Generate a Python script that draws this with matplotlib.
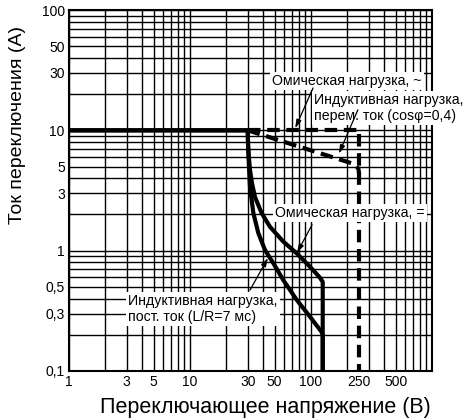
import numpy as np
import matplotlib
matplotlib.use("Agg")
import matplotlib.pyplot as plt
from matplotlib.ticker import FixedLocator, NullFormatter

plt.rcParams['font.family'] = ['Liberation Sans', 'DejaVu Sans']

# Data (voltage in V, current in A)
ohm_dc_v = [1, 30, 30.2, 30.6, 31.3, 32.6, 34.4, 39.1, 45.8, 59, 76.2, 98, 118, 125, 125]
ohm_dc_i = [10, 10, 7.5, 6.2, 4.7, 3.6, 2.8, 2.05, 1.58, 1.19, 0.95, 0.736, 0.6, 0.55, 0.1]

ind_dc_v = [1, 30, 30.2, 30.4, 31.3, 33.4, 36.7, 41.7, 48.9, 59, 76.2, 98, 122, 125, 125]
ind_dc_i = [10, 10, 7.5, 6.2, 3.4, 2.05, 1.4, 1.01, 0.785, 0.57, 0.39, 0.283, 0.212, 0.2, 0.1]

ohm_ac_v = [30, 250, 250]
ohm_ac_i = [10, 10, 0.1]

ind_ac_v = [30, 220, 238, 247, 250]
ind_ac_i = [10, 5.3, 5.05, 4.75, 4.3]

x_ticks = [1, 3, 5, 10, 30, 50, 100, 250, 500]
x_labels = ['1', '3', '5', '10', '30', '50', '100', '250', '500']
y_ticks = [0.1, 0.3, 0.5, 1, 3, 5, 10, 30, 50, 100]
y_labels = ['0,1', '0,3', '0,5', '1', '3', '5', '10', '30', '50', '100']

fig = plt.figure(figsize=(4.7, 4.18), dpi=100)
ax = fig.add_axes([69/470, 1 - 371/418, 363/470, 361/418])
ax.set_xscale('log')
ax.set_yscale('log')
ax.set_xlim(1, 1000)
ax.set_ylim(0.1, 100)

# grid at every 1..9 step of each decade
grid_x = [m * 10**d for d in range(0, 3) for m in range(1, 10)] + [1000]
grid_y = [m * 10.0**d for d in range(-1, 2) for m in range(1, 10)] + [100]
for gx in grid_x:
    ax.axvline(gx, color='black', lw=1.0, zorder=1)
for gy in grid_y:
    ax.axhline(gy, color='black', lw=1.0, zorder=1)

ax.set_xticks(x_ticks)
ax.set_xticklabels(x_labels)
ax.xaxis.set_minor_locator(FixedLocator([]))
ax.xaxis.set_minor_formatter(NullFormatter())
ax.set_yticks(y_ticks)
ax.set_yticklabels(y_labels)
ax.yaxis.set_minor_locator(FixedLocator([]))
ax.yaxis.set_minor_formatter(NullFormatter())
ax.tick_params(length=0, labelsize=10, pad=3, colors='black')
for s in ax.spines.values():
    s.set_linewidth(1.5)

ax.plot(ohm_dc_v, ohm_dc_i, color='black', lw=3, solid_joinstyle='round', zorder=3)
ax.plot(ind_dc_v, ind_dc_i, color='black', lw=3, solid_joinstyle='round', zorder=3)
ax.plot(ohm_ac_v, ohm_ac_i, color='black', lw=3, ls=(0, (3, 1.6)), zorder=3)
ax.plot(ind_ac_v, ind_ac_i, color='black', lw=3, ls=(0, (3, 1.6)), zorder=3)

box = dict(fc='white', ec='none', pad=1.5)
arrow = dict(arrowstyle='-|>,head_length=0.5,head_width=0.15', color='black',
             lw=0.9, shrinkA=0, shrinkB=0)
fs = 10.2

ax.text(47.6, 25.7, 'Омическая нагрузка, ~', fontsize=fs, ha='left', va='center',
        bbox=box, zorder=4, clip_on=False)
ax.annotate('', xy=(74, 10.4), xytext=(104, 22.5), arrowprops=arrow, zorder=5)

ax.text(106, 15.4, 'Индуктивная нагрузка,\nперем. ток (cosφ=0,4)', fontsize=fs,
        ha='left', va='center', linespacing=1.15, bbox=box, zorder=4, clip_on=False)
ax.annotate('', xy=(170, 6.4), xytext=(244, 14.8), arrowprops=arrow, zorder=5)

ax.text(50.4, 2.06, 'Омическая нагрузка, =', fontsize=fs, ha='left', va='center',
        bbox=box, zorder=4, clip_on=False)
ax.annotate('', xy=(76.6, 0.96), xytext=(102, 1.64), arrowprops=arrow, zorder=5)

ax.text(3.07, 0.328, 'Индуктивная нагрузка,\nпост. ток (L/R=7 мс)', fontsize=fs,
        ha='left', va='center', linespacing=1.15, bbox=box, zorder=4)
ax.annotate('', xy=(44.1, 0.87), xytext=(31.3, 0.47), arrowprops=arrow, zorder=5)

fig.text(265/470, 1 - 408/418, 'Переключающее напряжение (В)', fontsize=15.5,
         ha='center', va='center')
fig.text(18/470, 1 - 125/418, 'Ток переключения (А)', fontsize=14,
         ha='center', va='center', rotation=90)

fig.savefig('out.png', dpi=100)
